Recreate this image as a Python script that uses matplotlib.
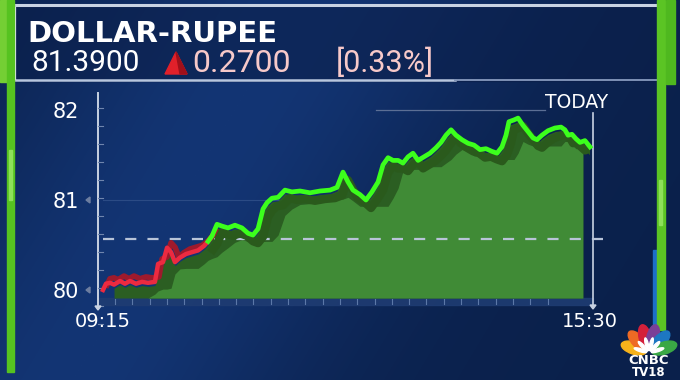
import numpy as np
import matplotlib
matplotlib.use("Agg")
import matplotlib.pyplot as plt
from matplotlib.patches import Rectangle, Polygon, Ellipse
from matplotlib.transforms import offset_copy

# ---------------- data ----------------
title = "DOLLAR-RUPEE"
last_price = "81.3900"
change = "0.2700"
change_pct = "[0.33%]"
prev_close_level = 80.57
time_labels = ["09:15", "15:30"]
y_ticks = [80, 81, 82]

# minutes since 09:15
minutes = [0, 2.3, 5.4, 8.5, 13.1, 16.9, 20.8, 25.4, 30.0, 34.7, 40.0, 42.4, 46.2,
           49.3, 52.4, 55.4, 59.3, 63.9, 68.5, 73.2, 77.8, 80.9, 83.9, 87.8, 91.6,
           96.3, 101.6, 107.0, 111.7, 115.5, 119.4, 123.2, 126.3, 130.1, 134.8,
           140.1, 145.5, 151.7, 159.4, 167.1, 174.8, 180.2, 184.8, 188.7, 192.5,
           197.9, 202.5, 207.1, 211.8, 215.6, 219.5, 223.3, 227.2, 231.0, 234.9,
           238.7, 242.6, 247.2, 251.8, 256.4, 260.3, 264.1, 268.0, 271.8, 276.4,
           281.1, 285.7, 290.3, 294.9, 299.5, 303.4, 307.2, 310.3, 312.6, 316.5,
           319.6, 323.4, 327.3, 331.1, 334.2, 338.0, 342.7, 348.0, 352.7, 355.7,
           358.1, 361.1, 364.2, 367.3, 371.1, 375.0]
rate = [80.00, 80.07, 80.08, 80.06, 80.10, 80.07, 80.10, 80.07, 80.09, 80.08, 80.09,
        80.29, 80.31, 80.47, 80.42, 80.31, 80.36, 80.40, 80.42, 80.44, 80.49, 80.54,
        80.60, 80.73, 80.71, 80.69, 80.72, 80.69, 80.63, 80.61, 80.68, 80.90, 80.97,
        81.02, 81.03, 81.11, 81.09, 81.10, 81.08, 81.10, 81.11, 81.14, 81.31, 81.20,
        81.11, 81.06, 81.00, 81.09, 81.20, 81.39, 81.47, 81.44, 81.44, 81.41, 81.48,
        81.52, 81.44, 81.48, 81.52, 81.58, 81.64, 81.72, 81.78, 81.72, 81.67, 81.63,
        81.61, 81.56, 81.57, 81.54, 81.52, 81.59, 81.72, 81.87, 81.89, 81.91, 81.83,
        81.76, 81.69, 81.67, 81.72, 81.77, 81.80, 81.81, 81.78, 81.72, 81.73, 81.68,
        81.64, 81.66, 81.59]

t = np.array(minutes)
v = np.array(rate)

# ---------------- figure ----------------
W, H = 680, 380
fig = plt.figure(figsize=(W / 100, H / 100), dpi=100)
bg = fig.add_axes([0, 0, 1, 1])
bg.set_xlim(0, W)
bg.set_ylim(H, 0)
bg.axis("off")

# background gradient
yy, xx = np.mgrid[0:H, 0:W]
c1 = np.array([0x08, 0x1a, 0x3e]) / 255
c2 = np.array([0x13, 0x35, 0x74]) / 255
d = np.exp(-((xx - 300 + 0.6 * yy) / 230.0) ** 2)
d = 0.25 + 0.75 * d
img = c1[None, None, :] * (1 - d[..., None]) + c2[None, None, :] * d[..., None]
bg.imshow(img, extent=[0, W, H, 0], aspect="auto", zorder=0)

# header
bg.add_patch(Rectangle((14, 6), 648, 75, color="#0b1f4a", alpha=0.6, zorder=1))
bg.plot([12, 662], [5, 5], color="#c9d3e3", lw=2.2, zorder=2)
bg.plot([12, 455], [80, 80], color="#b7c6de", lw=1.8, zorder=2)
bg.plot([455, 662], [80, 80], color="#7f92b6", lw=1.4, zorder=2)
bg.plot([15, 15], [8, 79], color="#e8edf5", lw=1.6, zorder=2)

# green side bars
bg.add_patch(Rectangle((0, 0), 7, 82, color="#74cf34", zorder=3))
bg.add_patch(Rectangle((7, 0), 7, 372, color="#56c320", zorder=3))
bg.add_patch(Rectangle((9, 150), 3, 50, color="#8ee05a", zorder=3))
bg.add_patch(Rectangle((653, 250), 4, 80, color="#1c6fc8", zorder=3))
bg.add_patch(Rectangle((657, 0), 8, 330, color="#5bc424", zorder=3))
bg.add_patch(Rectangle((666, 0), 9, 84, color="#4fb81f", zorder=3))
bg.add_patch(Rectangle((659, 180), 3, 45, color="#8ee05a", zorder=3))

# header texts
bg.text(27, 34, title, color="white", fontsize=21, fontweight="bold",
        family="DejaVu Sans", va="center", ha="left", zorder=5)
bg.text(31, 63, last_price, color="white", fontsize=21.5, family="Roboto",
        va="center", ha="left", zorder=5)
bg.add_patch(Polygon([[165, 74], [187, 74], [176, 52]], closed=True,
                     color="#e0202a", zorder=5))
bg.add_patch(Polygon([[176, 52], [187, 74], [180, 74]], closed=True,
                     color="#a0101a", zorder=5))
bg.text(192, 63, change, color="#f7c9c9", fontsize=23, family="Roboto",
        va="center", ha="left", zorder=5)
bg.text(336, 63, change_pct, color="#f7c9c9", fontsize=22, family="Roboto",
        va="center", ha="left", zorder=5)

# ---------------- data axes ----------------
x0, x1 = 103, 590
ytop, ybot = 95, 305
ax = fig.add_axes([x0 / W, (H - ybot) / H, (x1 - x0) / W, (ybot - ytop) / H])
ax.set_facecolor("none")
ax.set_xlim(0, 375)
v_top = 81 + (200 - ytop) / 90
v_bot = 81 - (ybot - 200) / 90
ax.set_ylim(v_bot, v_top)
for s in ax.spines.values():
    s.set_visible(False)

base = 81 - (298 - 200) / 90

# gridlines
ax.plot([0, 365], [81, 81], color="#2b4b85", lw=0.8, zorder=1)
ax.plot([210, 340], [82.0, 82.0], color="#5c6f95", lw=0.9, zorder=1)

# fills
split = 84.0
tf = np.concatenate([t[t <= 369.5], [369.5]])
vf = np.interp(tf, t, v)
dark_top = vf - 0.04
dark_top[tf < 8] = base
ax.fill_between(tf, base, dark_top, where=tf >= 8, color="#2b5e22", lw=0, zorder=2)
n = len(vf)
env = np.array([vf[max(0, i - 4):i + 2].min() for i in range(n)]) - 0.07
ramp = base + (tf - 37) * 0.0145
light = np.minimum(env, ramp)
light = np.maximum(light, base)
ax.fill_between(tf, base, light, color="#408b36", lw=0, zorder=3)

# bottom strip
bg.add_patch(Rectangle((98, 298), 495, 7, color="#1f3c72", alpha=0.9, zorder=3))
for xt in np.arange(115, 560, 17.3):
    bg.plot([xt, xt], [299, 304], color="#5c78a8", lw=0.8, zorder=4)

# dashed previous close line
ax.plot([0, 390], [prev_close_level] * 2, color="#b8c4d8", lw=1.6,
        dashes=(5, 5), zorder=4, clip_on=False)

# lines with 3D ribbon effect
red_mask = t <= split + 0.1
green_mask = t >= split - 4
tr_red = offset_copy(ax.transData, fig=fig, x=4, y=5, units="dots")
tr_green = offset_copy(ax.transData, fig=fig, x=5, y=-8, units="dots")
ax.plot(t[red_mask], v[red_mask], color="#9e1a2c", lw=4, transform=tr_red,
        zorder=5, solid_joinstyle="round")
ax.plot(t[green_mask], v[green_mask], color="#2a5a1c", lw=6, transform=tr_green,
        zorder=5, solid_joinstyle="round")
ax.plot(t[red_mask], v[red_mask], color="#ec2a40", lw=3.2, zorder=6,
        solid_joinstyle="round", clip_on=False)
ax.plot(t[green_mask], v[green_mask], color="#3cff1c", lw=3.4, zorder=6,
        solid_joinstyle="round", clip_on=False)

# ticks
ax.set_yticks(y_ticks)
ax.set_yticklabels([str(y) for y in y_ticks])
ax.tick_params(axis="y", length=0, pad=17, labelsize=15, labelcolor="white")
ax.set_xticks([0, 375])
ax.set_xticklabels(time_labels)
ax.tick_params(axis="x", length=0, pad=5, labelsize=14, labelcolor="white")
for lab in ax.get_yticklabels() + ax.get_xticklabels():
    lab.set_family("DejaVu Sans")

# vertical axis line & minor ticks
bg.plot([98, 98], [93, 306], color="#c8d2e2", lw=1.4, zorder=4)
for k in range(13):
    yk = 108 + k * 18
    bg.plot([98, 103], [yk, yk], color="#6f85ad", lw=0.8, zorder=4)
bg.add_patch(Polygon([[95, 306], [101, 306], [98, 310]], color="#c8d2e2", zorder=4))
for yk in (200, 290):
    bg.add_patch(Polygon([[86, yk], [90, yk - 3], [90, yk + 3]], color="#6d7ea0", zorder=4))

# TODAY marker
bg.plot([593, 593], [113, 305], color="#c8d2e2", lw=1.2, zorder=4)
bg.add_patch(Polygon([[590, 305], [596, 305], [593, 309]], color="#c8d2e2", zorder=4))
bg.text(577, 102, "TODAY", color="white", fontsize=13.5, family="DejaVu Sans",
        ha="center", va="center", zorder=5)

# CNBC TV18 logo
cx, cy = 649, 353
feather_cols = ["#f6b21b", "#ee6a24", "#d4203a", "#7a3f97", "#1d77c2", "#3aa845"]
angles = [-72, -43, -14, 14, 43, 72]
for a, col in zip(angles, feather_cols):
    r = np.radians(a)
    ex = cx + 16 * np.sin(r)
    ey = cy - 16 * np.cos(r)
    bg.add_patch(Ellipse((ex, ey), 12, 26, angle=a, color=col, zorder=6))
    bg.add_patch(Ellipse((cx + 9 * np.sin(r), cy - 9 * np.cos(r)), 3, 13,
                         angle=a, color="white", zorder=7))
bg.text(649, 360, "CNBC", color="white", fontsize=9.5, fontweight="bold",
        family="DejaVu Sans", ha="center", va="center", zorder=8)
bg.text(649, 372, "TV18", color="white", fontsize=8.5, fontweight="bold",
        family="DejaVu Sans", ha="center", va="center", zorder=8)

fig.savefig("out.png", dpi=100, facecolor="#0a1d45")
